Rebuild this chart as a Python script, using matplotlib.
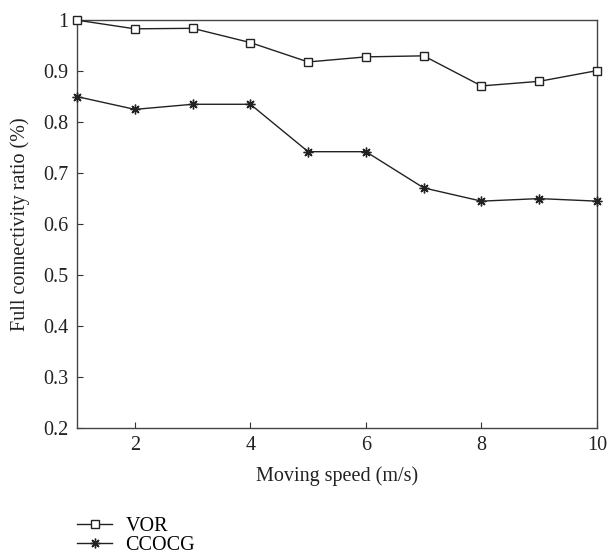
import matplotlib

matplotlib.use("Agg")
import matplotlib.pyplot as plt

speed = [1, 2, 3, 4, 5, 6, 7, 8, 9, 10]
vor = [1.0, 0.983, 0.984, 0.956, 0.918, 0.928, 0.930, 0.871, 0.880, 0.901]
ccocg = [0.850, 0.825, 0.835, 0.835, 0.742, 0.742, 0.671, 0.645, 0.650, 0.645]

x_ticks = [2, 4, 6, 8, 10]
y_ticks = [0.2, 0.3, 0.4, 0.5, 0.6, 0.7, 0.8, 0.9, 1.0]
y_ticklabels = ["0.2", "0.3", "0.4", "0.5", "0.6", "0.7", "0.8", "0.9", "1"]

plt.rcParams["font.family"] = ["Liberation Serif", "DejaVu Serif"]
plt.rcParams["font.size"] = 14.5

fig = plt.figure(figsize=(6.07, 5.6), dpi=100)
ax = fig.add_axes([0.127, 0.2357, 0.8565, 0.7283])

line_col = "#222222"
ax.plot(speed, vor, "-", color=line_col, linewidth=1.0, marker="s",
        markersize=6, markerfacecolor="white", markeredgecolor=line_col,
        markeredgewidth=1.0, label="VOR", clip_on=False, zorder=3)
ax.plot(speed, ccocg, "-", color=line_col, linewidth=1.0, marker=(8, 2, 0),
        markersize=7, markeredgecolor=line_col, markeredgewidth=1.0,
        label="CCOCG", clip_on=False, zorder=3)

ax.set_xlim(1, 10)
ax.set_ylim(0.2, 1.0)
ax.set_xticks(x_ticks)
ax.set_yticks(y_ticks)
ax.set_yticklabels(y_ticklabels)
ax.tick_params(direction="in", length=4, width=0.8, colors="#333333",
               labelcolor="#222222", top=False, right=False, pad=6)
for spine in ax.spines.values():
    spine.set_color("#444444")
    spine.set_linewidth(1.0)

ax.set_xlabel("Moving speed (m/s)", color="#222222", labelpad=8)
ax.set_ylabel("Full connectivity ratio (%)", color="#222222", labelpad=10)

fig.legend(loc="upper left", bbox_to_anchor=(0.127, 0.077),
           frameon=False, handlelength=1.75, handletextpad=0.65,
           labelspacing=0.0, borderpad=0.0, borderaxespad=0.0)

fig.savefig("out.png", dpi=100)
